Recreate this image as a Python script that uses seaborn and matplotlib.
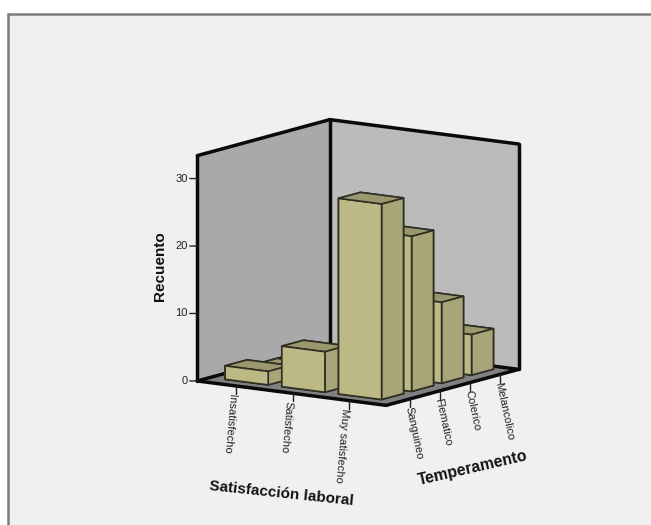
import matplotlib
matplotlib.use("Agg")
import matplotlib.pyplot as plt
from matplotlib.patches import Rectangle
from mpl_toolkits.mplot3d import proj3d
import seaborn as sns

satisfaccion = ["Insatisfecho", "Satisfecho", "Muy satisfecho"]
temperamento = ["Sanguineo", "Flematico", "Colerico", "Melancolico"]
sat_idx = [2, 2, 2, 2, 1, 0, 0]
tem_idx = [3, 2, 1, 0, 0, 1, 0]
recuento = [6, 12, 23, 29, 6, 1, 2]
z_ticks = [0, 10, 20, 30]

sns.set_theme(style="white")
plt.rcParams['font.family'] = ['Liberation Sans', 'DejaVu Sans']

W, H = 651, 525
fig = plt.figure(figsize=(W / 100, H / 100), dpi=100, facecolor="white")
fig.add_artist(Rectangle((7.5 / W, -0.01), 1.0, (H - 13.5) / H + 0.01,
                         transform=fig.transFigure, fc="#F0F0F0", ec="#7C7C7C", lw=1.8, zorder=-5))

S = 500
ax = fig.add_axes([(358 - 0.5135 * S) / W, (262.5 - 0.5135 * S) / H, S / W, S / H],
                  projection="3d", proj_type="ortho", computed_zorder=False)
ax.patch.set_alpha(0)
x0, x1 = -0.68, 2.65
y0, y1 = -0.80, 3.62
z0, z1 = 0, 33.4
ax.set_xlim(x0, x1); ax.set_ylim(y0, y1); ax.set_zlim(z0, z1)
ax.view_init(elev=10.8, azim=-55.4)
ax.set_box_aspect((229, 233, 229), zoom=388 / S)
ax.grid(False)
ax.set_xticks([]); ax.set_yticks([]); ax.set_zticks([])
ax.xaxis.set_pane_color("#A9A9A9")
ax.yaxis.set_pane_color("#BBBBBB")
ax.zaxis.set_pane_color("#808080")
ax.xaxis.pane.set_edgecolor("none"); ax.yaxis.pane.set_edgecolor("none"); ax.zaxis.pane.set_edgecolor("none")
for a in (ax.xaxis, ax.yaxis, ax.zaxis):
    a.line.set_color((0, 0, 0, 0))

# frame edges
k = dict(color="#0A0A0A", lw=2.5, solid_capstyle="round", zorder=2)
for (xs, ys, zs) in [
    ([x0, x0], [y0, y0], [z0, z1]), ([x0, x0], [y1, y1], [z0, z1]), ([x1, x1], [y1, y1], [z0, z1]),
    ([x0, x0], [y0, y1], [z1, z1]), ([x0, x1], [y1, y1], [z1, z1]),
    ([x0, x0], [y0, y1], [z0, z0]), ([x0, x1], [y1, y1], [z0, z0]),
    ([x0, x1], [y0, y0], [z0, z0]), ([x1, x1], [y0, y1], [z0, z0])]:
    ax.plot(xs, ys, zs, **k)

# bars, drawn from back to front
bw, bd = 0.76, 0.73
order = sorted(range(len(recuento)), key=lambda i: (sat_idx[i] - tem_idx[i]))
front, side, top = "#BDB985", "#A8A578", "#9B9870"
for n, i in enumerate(order):
    faces = [front, top, front, front, side, side]
    ax.bar3d(sat_idx[i] - bw / 2 - 0.04, tem_idx[i] - bd / 2, 0, bw, bd, recuento[i], color=faces,
             shade=False, edgecolor="#2E2E22", linewidth=1.2, zorder=3 + n)


def label(x, y, z, s, dx=0, dy=0, **kw):
    """Place a 2D text at the projected position of a 3D data point."""
    xp, yp, _ = proj3d.proj_transform(x, y, z, ax.get_proj())
    ax.annotate(s, xy=(xp, yp), xycoords="data", xytext=(dx, dy), textcoords="offset pixels",
                color=tc, annotation_clip=False, **kw)


tc = "#222222"
for v in z_ticks:
    ax.plot([x0, x0 - 0.09], [y0, y0 - 0.08], [v, v], color=tc, lw=1, zorder=2)
    label(x0 - 0.09, y0 - 0.08, v, str(v), dx=-2, ha="right", va="center", fontsize=8)
for i, s in enumerate(satisfaccion):
    ax.plot([i, i], [y0, y0], [0, -1.2], color=tc, lw=1, zorder=2)
    label(i, y0, -1.2, s, dx=-4, rotation=-95, rotation_mode="anchor", ha="left", va="center", fontsize=8)
for i, s in enumerate(temperamento):
    ax.plot([x1, x1], [i, i], [0, -1.2], color=tc, lw=1, zorder=2)
    label(x1, i, -1.2, s, dx=-2, rotation=-78, rotation_mode="anchor", ha="left", va="center", fontsize=8)

lab = dict(fontweight="bold", color="#111111", ha="center", va="center")
fig.text(160 / W, 1 - 266 / H, "Recuento", rotation=90, fontsize=11, **lab)
fig.text(281 / W, 1 - 494 / H, "Satisfacción laboral", rotation=-6, fontsize=11, **lab)
fig.text(473 / W, 1 - 468 / H, "Temperamento", rotation=13, fontsize=11.3, **lab)

fig.savefig("out.png", dpi=100, facecolor="white")
